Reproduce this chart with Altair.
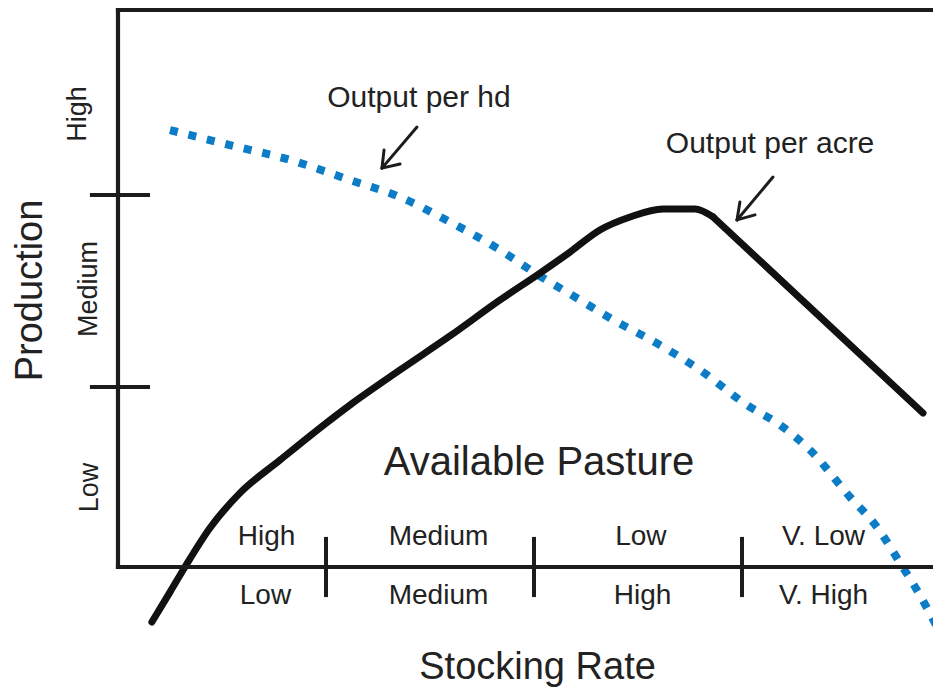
import altair as alt
import pandas as pd

# Units: stocking rate = 0 at the vertical axis, 1 per pasture class;
#        production    = 0 at the horizontal axis, 1 per production class.

# Output per acre (solid black curve): rising curved part ...
acre_rate = [0.163, 0.25, 0.322, 0.442, 0.587, 0.779, 0.971, 1.115, 1.356, 1.596,
             1.837, 2.029, 2.173, 2.317, 2.462, 2.620, 2.774, 2.861]
acre_prod = [-0.296, -0.135, 0.0, 0.210, 0.399, 0.576, 0.749, 0.872, 1.061, 1.244,
             1.438, 1.583, 1.696, 1.815, 1.885, 1.928, 1.928, 1.885]
# ... and the straight falling part after the peak
acre_fall_rate = [2.861, 3.870]
acre_fall_prod = [1.885, 0.829]

# Output per head (blue dotted curve)
hd_rate = [0.25, 0.538, 0.827, 1.115, 1.356, 1.596, 1.837, 2.005, 2.221, 2.365,
           2.606, 2.798, 3.024, 3.183, 3.327, 3.519, 3.649, 3.760, 3.841, 3.938]
hd_prod = [2.353, 2.272, 2.192, 2.084, 1.992, 1.858, 1.707, 1.583, 1.438, 1.341,
           1.195, 1.061, 0.872, 0.765, 0.630, 0.377, 0.215, 0.022, -0.124, -0.323]

# Axis class boundaries
y_tick_vals = [0.969, 2.003]
x_tick_vals = [1.0, 2.0, 3.0]
axis_top = 3.0
axis_right = 3.95

# Category labels
prod_labels = ["High", "Medium", "Low"]
prod_label_pos = [2.439, 1.497, 0.428]
prod_label_x = [-0.154, -0.101, -0.096]

pasture_labels = ["High", "Medium", "Low", "V. Low"]
pasture_pos = [0.714, 1.541, 2.514, 3.392]
stock_labels = ["Low", "Medium", "High", "V. High"]
stock_pos = [0.709, 1.541, 2.522, 3.392]

x_dom = [-0.5288, 3.9183]
y_dom = [-0.6570, 3.0102]
XS = alt.Scale(domain=x_dom, nice=False, zero=False)
YS = alt.Scale(domain=y_dom, nice=False, zero=False)

FONT = "Liberation Sans"
INK = "#1c1c1c"
BLUE = "#0b7cc5"

acre_df = pd.DataFrame({"x": acre_rate, "y": acre_prod, "o": range(len(acre_rate))})
fall_df = pd.DataFrame({"x": acre_fall_rate, "y": acre_fall_prod, "o": range(len(acre_fall_rate))})
hd_df = pd.DataFrame({"x": hd_rate, "y": hd_prod, "o": range(len(hd_rate))})

frame_df = pd.DataFrame({
    "x": [0.0, 0.0, 0.0],
    "x2": [0.0, axis_right, axis_right],
    "y": [0.0, axis_top, 0.0],
    "y2": [axis_top, axis_top, 0.0],
})

tick_rows = []
for v in y_tick_vals:
    tick_rows.append({"x": -0.135, "x2": 0.154, "y": v, "y2": v})
for u in x_tick_vals:
    tick_rows.append({"x": u, "x2": u, "y": 0.162, "y2": -0.162})
tick_df = pd.DataFrame(tick_rows)

arrow_df = pd.DataFrame([
    # arrow to output per hd
    {"x": 1.4375, "y": 2.369, "x2": 1.269, "y2": 2.148},
    {"x": 1.269, "y": 2.148, "x2": 1.279, "y2": 2.245},
    {"x": 1.269, "y": 2.148, "x2": 1.356, "y2": 2.170},
    # arrow to output per acre
    {"x": 3.149, "y": 2.100, "x2": 2.976, "y2": 1.869},
    {"x": 2.976, "y": 1.869, "x2": 2.990, "y2": 1.966},
    {"x": 2.976, "y": 1.869, "x2": 3.0625, "y2": 1.896},
])

texts = []
for t, p, px in zip(prod_labels, prod_label_pos, prod_label_x):
    texts.append({"t": t, "x": px, "y": p, "fs": 27, "ang": 270})
texts.append({"t": "Production", "x": -0.365, "y": 1.489, "fs": 38, "ang": 270})
for t, p in zip(pasture_labels, pasture_pos):
    texts.append({"t": t, "x": p, "y": 0.118, "fs": 28, "ang": 0})
for t, p in zip(stock_labels, stock_pos):
    texts.append({"t": t, "x": p, "y": -0.199, "fs": 28, "ang": 0})
texts.append({"t": "Available Pasture", "x": 2.024, "y": 0.495, "fs": 40, "ang": 0})
texts.append({"t": "Stocking Rate", "x": 2.017, "y": -0.603, "fs": 38, "ang": 0})
texts.append({"t": "Output per hd", "x": 1.447, "y": 2.477, "fs": 30, "ang": 0})
texts.append({"t": "Output per acre", "x": 3.135, "y": 2.229, "fs": 30, "ang": 0})
text_df = pd.DataFrame(texts)


def seg_layer(df, width, cap):
    return alt.Chart(df).mark_rule(color=INK, strokeWidth=width, strokeCap=cap).encode(
        x=alt.X("x:Q", scale=XS, axis=None),
        x2="x2:Q",
        y=alt.Y("y:Q", scale=YS, axis=None),
        y2="y2:Q",
    )


def curve(df, interp):
    return alt.Chart(df).mark_line(
        color="#111111", strokeWidth=7, interpolate=interp,
        strokeJoin="round", strokeCap="round"
    ).encode(
        x=alt.X("x:Q", scale=XS, axis=None),
        y=alt.Y("y:Q", scale=YS, axis=None),
        order="o:Q",
    )


frame = seg_layer(frame_df, 4.2, "square")
ticks = seg_layer(tick_df, 4, "butt")
arrows = seg_layer(arrow_df, 3, "round")

acre = curve(acre_df, "monotone")
fall = curve(fall_df, "linear")

hd = alt.Chart(hd_df).mark_line(
    color=BLUE, strokeWidth=8, interpolate="monotone", strokeDash=[8, 11], strokeCap="butt"
).encode(
    x=alt.X("x:Q", scale=XS, axis=None),
    y=alt.Y("y:Q", scale=YS, axis=None),
    order="o:Q",
)

labels = alt.Chart(text_df).mark_text(
    font=FONT, color="#222222", align="center", baseline="alphabetic"
).encode(
    x=alt.X("x:Q", scale=XS, axis=None),
    y=alt.Y("y:Q", scale=YS, axis=None),
    text="t:N",
    size=alt.Size("fs:Q", scale=None, legend=None),
    angle=alt.Angle("ang:Q", scale=None),
)

chart = alt.layer(hd, acre, fall, frame, ticks, arrows, labels).properties(
    width=925, height=681, padding=0, background="white",
    autosize=alt.AutoSizeParams(type="none"),
).configure_view(stroke=None)

chart.save("out.html", embed_options={"renderer": "svg", "actions": False})
